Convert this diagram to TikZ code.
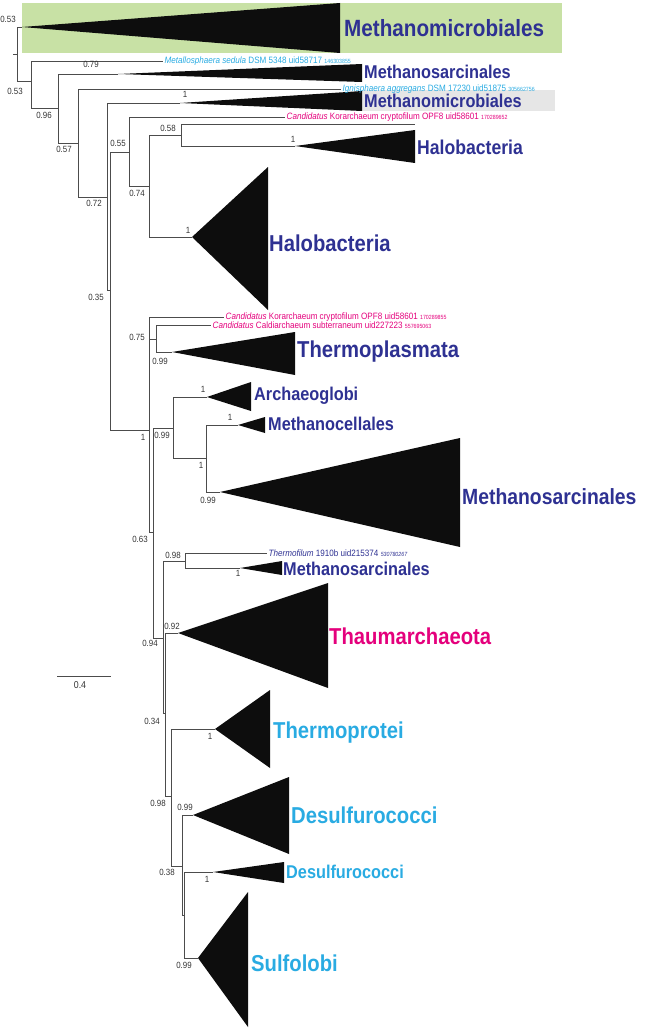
\documentclass[tikz,border=0pt]{standalone}
\usepackage{fontspec}
\setmainfont{Liberation Sans}
\newfontfamily\cf[FakeStretch=0.88]{Liberation Sans}
\definecolor{dblue}{RGB}{46,49,146}
\definecolor{mag}{RGB}{228,0,124}
\definecolor{lblue}{RGB}{41,171,226}
\definecolor{gbg}{RGB}{200,225,165}
\definecolor{greybg}{RGB}{230,230,230}
\newcommand\acc[1]{{\fontsize{6}{6.5}\selectfont #1}}
\begin{document}
\begin{tikzpicture}[x=1pt,y=-1pt,
  tree/.style={draw=black!70, line width=0.6pt},
  clade/.style={fill=black!95, draw=none},
  supp/.style={font=\cf\fontsize{9}{10}\selectfont, inner sep=0pt, text=black!80},
  big/.style={anchor=west, inner sep=1pt, font=\cf\bfseries\fontsize{23}{25}\selectfont},
  mid/.style={anchor=west, inner sep=1pt, font=\cf\bfseries\fontsize{18.5}{20}\selectfont},
  leaf/.style={anchor=west, inner sep=1.5pt, font=\cf\fontsize{9.2}{10}\selectfont}]
\useasboundingbox (0,0) rectangle (650,1030);
% backgrounds
\fill[gbg] (22,3) rectangle (562,53);
\fill[greybg] (362,90) rectangle (555,111);
% tree coordinates
\coordinate (rs) at (13,54);
\coordinate (r) at (17,54);
\coordinate (c0) at (22,27);
\coordinate (A) at (31,81);
\coordinate (B) at (58,108);
\coordinate (c1) at (118,74);
\coordinate (C) at (78,143);
\coordinate (D) at (107,197);
\coordinate (c2) at (180,103);
\coordinate (E) at (110,290);
\coordinate (F) at (129,152);
\coordinate (G) at (149,186);
\coordinate (H) at (181,135);
\coordinate (hl) at (415,124);
\coordinate (c3) at (295,146);
\coordinate (c4) at (192,237);
\coordinate (I) at (149,430);
\coordinate (J) at (156,339);
\coordinate (c5) at (172,352);
\coordinate (L) at (153,532);
\coordinate (K) at (173,428);
\coordinate (c6) at (207,397);
\coordinate (K2) at (206,458);
\coordinate (c7) at (238,425);
\coordinate (c8) at (220,492);
\coordinate (M) at (163,638);
\coordinate (N) at (185,561);
\coordinate (c9) at (240,568);
\coordinate (P) at (165,713);
\coordinate (c10) at (178,633);
\coordinate (Q) at (171,796);
\coordinate (c11) at (215,729);
\coordinate (R) at (182,866);
\coordinate (c12) at (193,815);
\coordinate (S) at (184,915);
\coordinate (c13) at (213,872);
\coordinate (c14) at (198,958);
% clades
\fill[clade] (c0) -- (340,3) -- (340,53) -- cycle;
\fill[clade] (c1) -- (362,64) -- (362,82) -- cycle;
\fill[clade] (c2) -- (362,91) -- (362,111) -- cycle;
\fill[clade] (c3) -- (415,130) -- (415,163) -- cycle;
\fill[clade] (c4) -- (268,167) -- (268,310) -- cycle;
\fill[clade] (c5) -- (295,332) -- (295,375) -- cycle;
\fill[clade] (c6) -- (251,382) -- (251,411) -- cycle;
\fill[clade] (c7) -- (265,417) -- (265,433) -- cycle;
\fill[clade] (c8) -- (460,438) -- (460,547) -- cycle;
\fill[clade] (c9) -- (282,561) -- (282,575) -- cycle;
\fill[clade] (c10) -- (328,583) -- (328,688) -- cycle;
\fill[clade] (c11) -- (270,690) -- (270,768) -- cycle;
\fill[clade] (c12) -- (289,777) -- (289,854) -- cycle;
\fill[clade] (c13) -- (284,862) -- (284,883) -- cycle;
\fill[clade] (c14) -- (248,892) -- (248,1027) -- cycle;
% labels
\node[big, text=dblue, font=\cf\bfseries\fontsize{23.5}{25}\selectfont] (lMm1) at (343,28) {Methanomicrobiales};
\node[leaf, text=lblue] (lMet) at (163,61) {\textit{Metallosphaera sedula} DSM 5348 uid58717 \acc{146303855}};
\node[mid, text=dblue] (lMs1) at (363,72) {Methanosarcinales};
\node[leaf, text=lblue] (lIgn) at (341,89) {\textit{Ignisphaera aggregans} DSM 17230 uid51875 \acc{305662756}};
\node[mid, text=dblue] (lMm2) at (363,101) {Methanomicrobiales};
\node[leaf, text=mag] (lKor1) at (285,117) {\textit{Candidatus} Korarchaeum cryptofilum OPF8 uid58601 \acc{170289652}};
\node[mid, text=dblue, font=\cf\bfseries\fontsize{20}{21}\selectfont] (lHal1) at (416,147) {Halobacteria};
\node[big, text=dblue] (lHal2) at (268,243) {Halobacteria};
\node[leaf, text=mag] (lKor2) at (224,317) {\textit{Candidatus} Korarchaeum cryptofilum OPF8 uid58601 \acc{170289855}};
\node[leaf, text=mag] (lCal) at (211,325) {\textit{Candidatus} Caldiarchaeum subterraneum uid227223 \acc{557695063}};
\node[big, text=dblue] (lThp) at (296,352) {Thermoplasmata};
\node[mid, text=dblue] (lArc) at (253,396) {Archaeoglobi};
\node[mid, text=dblue] (lMc) at (267,424) {Methanocellales};
\node[big, text=dblue, font=\cf\bfseries\fontsize{22}{24}\selectfont] (lMs2) at (461,497) {Methanosarcinales};
\node[leaf, text=dblue] (lThf) at (267,553) {\textit{Thermofilum} 1910b uid215374 \acc{\textit{530780267}}};
\node[mid, text=dblue] (lMs3) at (282,569) {Methanosarcinales};
\node[big, text=mag] (lTha) at (328,636) {Thaumarchaeota};
\node[big, text=lblue] (lThr) at (272,733) {Thermoprotei};
\node[big, text=lblue] (lDes1) at (290,815) {Desulfurococci};
\node[mid, text=lblue] (lDes2) at (285,872) {Desulfurococci};
\node[big, text=lblue] (lSul) at (250,963) {Sulfolobi};
% branches
\draw[tree] (rs) -- (r);
\draw[tree] (r) |- (c0);
\draw[tree] (r) |- (A);
\draw[tree] (A) |- (lMet.west);
\draw[tree] (A) |- (B);
\draw[tree] (B) |- (c1);
\draw[tree] (B) |- (C);
\draw[tree] (C) |- (lIgn.west);
\draw[tree] (C) |- (D);
\draw[tree] (D) |- (c2);
\draw[tree] (D) |- (E);
\draw[tree] (E) |- (F);
\draw[tree] (E) |- (I);
\draw[tree] (F) |- (lKor1.west);
\draw[tree] (F) |- (G);
\draw[tree] (G) |- (H);
\draw[tree] (G) |- (c4);
\draw[tree] (H) |- (hl);
\draw[tree] (H) |- (c3);
\draw[tree] (I) |- (lKor2.west);
\draw[tree] (I) |- (J);
\draw[tree] (I) |- (L);
\draw[tree] (J) |- (lCal.west);
\draw[tree] (J) |- (c5);
\draw[tree] (L) |- (K);
\draw[tree] (L) |- (M);
\draw[tree] (K) |- (c6);
\draw[tree] (K) |- (K2);
\draw[tree] (K2) |- (c7);
\draw[tree] (K2) |- (c8);
\draw[tree] (M) |- (N);
\draw[tree] (M) |- (P);
\draw[tree] (N) |- (lThf.west);
\draw[tree] (N) |- (c9);
\draw[tree] (P) |- (c10);
\draw[tree] (P) |- (Q);
\draw[tree] (Q) |- (c11);
\draw[tree] (Q) |- (R);
\draw[tree] (R) |- (c12);
\draw[tree] (R) |- (S);
\draw[tree] (S) |- (c13);
\draw[tree] (S) |- (c14);
% support values
\node[supp] (s1) at (8,19) {0.53};
\node[supp] (s2) at (15,91) {0.53};
\node[supp] (s3) at (91,64) {0.79};
\node[supp] (s4) at (44,115) {0.96};
\node[supp] (s5) at (64,149) {0.57};
\node[supp] (s6) at (185,94) {1};
\node[supp] (s7) at (94,203) {0.72};
\node[supp] (s8) at (118,143) {0.55};
\node[supp] (s9) at (137,193) {0.74};
\node[supp] (s10) at (168,128) {0.58};
\node[supp] (s11) at (293,139) {1};
\node[supp] (s12) at (188,230) {1};
\node[supp] (s13) at (96,297) {0.35};
\node[supp] (s14) at (137,337) {0.75};
\node[supp] (s15) at (160,361) {0.99};
\node[supp] (s16) at (143,437) {1};
\node[supp] (s17) at (162,435) {0.99};
\node[supp] (s18) at (203,389) {1};
\node[supp] (s19) at (230,417) {1};
\node[supp] (s20) at (201,465) {1};
\node[supp] (s21) at (208,500) {0.99};
\node[supp] (s22) at (140,539) {0.63};
\node[supp] (s23) at (173,555) {0.98};
\node[supp] (s24) at (238,573) {1};
\node[supp] (s25) at (172,626) {0.92};
\node[supp] (s26) at (150,643) {0.94};
\node[supp] (s27) at (152,721) {0.34};
\node[supp] (s28) at (210,736) {1};
\node[supp] (s29) at (158,803) {0.98};
\node[supp] (s30) at (185,807) {0.99};
\node[supp] (s31) at (167,872) {0.38};
\node[supp] (s32) at (207,879) {1};
\node[supp] (s33) at (184,965) {0.99};
% scale bar
\coordinate (sb1) at (57,676);
\coordinate (sb2) at (111,676);
\draw[tree] (sb1) -- (sb2);
\node[supp, font=\cf\fontsize{10}{11}\selectfont] (sbl) at (80,685) {0.4};
\end{tikzpicture}
\end{document}
